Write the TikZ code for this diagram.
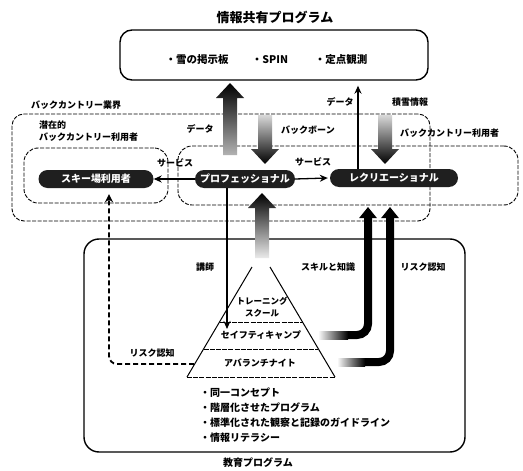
\documentclass[tikz,border=0pt]{standalone}
\usepackage{fontspec}
\setmainfont{Noto Sans CJK JP}
\usetikzlibrary{arrows.meta,calc}
\tikzset{
 lbl/.style={font=\fontsize{9}{11}\selectfont\bfseries, inner sep=1pt},
 pill/.style={fill=black!88, text=white, rounded corners=9pt, minimum height=18pt, inner sep=0pt, font=\fontsize{10}{12}\selectfont\bfseries},
 frame/.style={draw, dash pattern=on 4pt off 1.5pt, line width=0.9pt, rounded corners=14pt, inner sep=0pt},
 solidbox/.style={draw, line width=1.4pt, inner sep=0pt},
 thinarr/.style={line width=1.3pt, -{Stealth[length=8pt,width=7pt]}},
 blkarr/.style={line width=8pt, rounded corners=11pt, -{Triangle[length=11pt,width=17pt]}},
 riskdash/.style={line width=1.8pt, dash pattern=on 5pt off 3pt, rounded corners=8pt, -{Stealth[length=8pt,width=8pt]}},
 pyr/.style={line width=1pt},
 pyrline/.style={line width=0.9pt, dash pattern=on 5pt off 1.2pt},
 pyrtxt/.style={font=\fontsize{9}{11}\selectfont\bfseries, inner sep=0pt},
 bullet/.style={font=\fontsize{10}{12}\selectfont\bfseries, inner sep=0pt, anchor=west},
 toptxt/.style={font=\fontsize{10.5}{12}\selectfont\bfseries, inner sep=0pt},
 upshade/.style={top color=black, bottom color=black!30},
 downshade/.style={top color=black!15, bottom color=black},
 fadeshade/.style={top color=black, bottom color=black!8},
}
\newcommand\blockarr[4]{%
  \shade[#1] ($(#2)+(-7,0)$) -- ($(#3)+(-7,#4)$) -- ($(#3)+(-14,#4)$) -- (#3) -- ($(#3)+(14,#4)$) -- ($(#3)+(7,#4)$) -- ($(#2)+(7,0)$) -- cycle;}
\begin{document}
\begin{tikzpicture}[x=1pt,y=-1pt]
\path[fill=white,use as bounding box] (0,0) rectangle (523,471);

% titles
\node[font=\fontsize{13}{15}\selectfont\bfseries, inner sep=0pt] (t1) at (275,17) {情報共有プログラム};
\node[font=\fontsize{10}{12}\selectfont\bfseries, inner sep=0pt] (t2) at (258,463) {教育プログラム};

% information sharing box
\node[solidbox, rounded corners=12pt, minimum width=308pt, minimum height=50pt] (share) at (274,55) {};
\node[toptxt] (s1) at (197,60) {・雪の掲示板};
\node[toptxt] (s2) at (270,60) {・SPIN};
\node[toptxt] (s3) at (341,60) {・定点観測};

% frames
\node[frame, rounded corners=12pt, minimum width=418pt, minimum height=107pt] (industry) at (221,167.5) {};
\node[frame, minimum width=144pt, minimum height=55pt] (latent) at (96,175.5) {};
\node[frame, minimum width=340pt, minimum height=59pt] (users) at (348,175.5) {};
\node[lbl, anchor=west] (lind) at (30,105) {バックカントリー業界};
\node[lbl, anchor=west, align=left, font=\fontsize{9}{12}\selectfont\bfseries] (llat) at (38,131) {潜在的\\バックカントリー利用者};
\node[lbl, anchor=west] (lusr) at (399,133) {バックカントリー利用者};

% education box
\node[solidbox, rounded corners=15pt, minimum width=381pt, minimum height=213pt] (edu) at (274.5,345.5) {};

% pills
\node[pill, minimum width=115pt] (ski) at (96,179) {スキー場利用者};
\node[pill, minimum width=100pt] (pro) at (245,179) {プロフェッショナル};
\node[pill, minimum width=128pt] (rec) at (394,178) {レクリエーショナル};

% service arrows
\draw[thinarr] (pro.west) -- (ski.east);
\draw[thinarr] (pro.east) -- ([xshift=-2pt]rec.west);
\node[lbl] (sv1) at (175,163) {サービス};
\node[lbl] (sv2) at (313,162) {サービス};

% block arrows to / from sharing program
\coordinate (du0) at (230,155);
\coordinate (du1) at (230,83);
\blockarr{upshade}{du0}{du1}{15}
\coordinate (bb0) at (265,115);
\coordinate (bb1) at (265,164);
\blockarr{downshade}{bb0}{bb1}{-15}
\coordinate (sn0) at (385,115);
\coordinate (sn1) at (385,164);
\blockarr{downshade}{sn0}{sn1}{-15}
\coordinate (dx) at (358,0);
\draw[thinarr, shorten >=5pt] (dx |- rec.north) -- (dx |- share.south);
\node[lbl] (ld1) at (200,129) {データ};
\node[lbl] (lbb) at (308,130) {バックボーン};
\node[lbl] (ld2) at (340,102) {データ};
\node[lbl] (lsn) at (410,102) {積雪情報};

% pyramid
\coordinate (pl1) at (252,267);
\coordinate (pr1) at (270,267);
\coordinate (pbl) at (187,377);
\coordinate (pbr) at (335,377);
\draw[pyr] (pl1) -- (pbl);
\draw[pyr] (pr1) -- (pbr);
\draw[pyrline] (pbl) -- (pbr);
\draw[pyrline] ($(pl1)!0.5!(pbl)$) -- ($(pr1)!0.5!(pbr)$);
\draw[pyrline] ($(pl1)!0.745!(pbl)$) -- ($(pr1)!0.745!(pbr)$);
\node[pyrtxt, align=center, font=\fontsize{8.5}{11.5}\selectfont\bfseries] (ptr) at (262,307) {トレーニング\\スクール};
\node[pyrtxt] (psc) at (261,335) {セイフティキャンプ};
\node[pyrtxt] (pan) at (260,363) {アバランチナイト};

% up arrow pyramid -> professional
\coordinate (pu0) at (262,258);
\coordinate (pu1) at (262,193);
\blockarr{fadeshade}{pu0}{pu1}{15}

% instructor arrow
\coordinate (kx) at (227,0);
\coordinate (kt) at (227,329);
\draw[thinarr] (kx |- pro.south) -- (kt);
\node[lbl] (lk) at (205,267) {講師};

% skill and risk arrows
\coordinate (sk0) at (318,335);
\coordinate (sk1) at (368,207);
\draw[blkarr] (sk0) -| (sk1);
\shade[left color=white, right color=black] (318,331) rectangle (348,339);
\coordinate (rk0) at (337,362);
\coordinate (rk1) at (390,207);
\draw[blkarr] (rk0) -| (rk1);
\shade[left color=white, right color=black] (337,358) rectangle (365,366);
\node[lbl] (lsk) at (328,267) {スキルと知識};
\node[lbl] (lrk) at (423,267) {リスク認知};

% latent risk perception (dashed)
\coordinate (rl0) at (194,364);
\coordinate (rl1) at (109,364);
\draw[riskdash, shorten >=6pt] (rl0) -- (rl1) -- (rl1 |- ski.south);
\node[lbl] (lrl) at (152,353) {リスク認知};

% bullets
\node[bullet] (b1) at (200,393) {・同一コンセプト};
\node[bullet] (b2) at (200,408) {・階層化させたプログラム};
\node[bullet] (b3) at (200,423) {・標準化された観察と記録のガイドライン};
\node[bullet] (b4) at (200,438) {・情報リテラシー};
\end{tikzpicture}
\end{document}
